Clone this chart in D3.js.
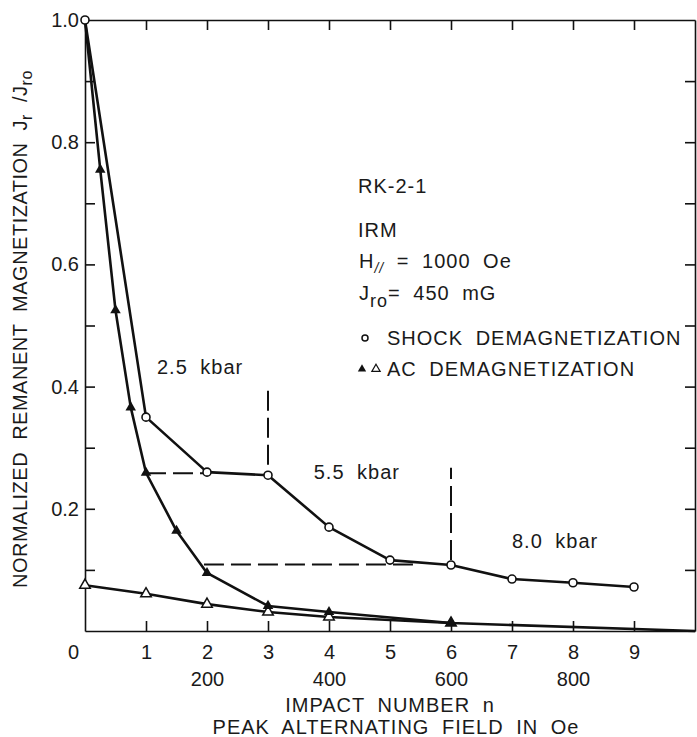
<!DOCTYPE html>
<html>
<head>
<meta charset="utf-8">
<script src="https://cdn.jsdelivr.net/npm/d3@7"></script>
<style>
  body { margin: 0; background: #fff; }
  svg text { font-family: "Liberation Sans", Arial, sans-serif; fill: #1a1a1a; }
</style>
</head>
<body>
<svg class="chart" width="697" height="737"></svg>
<script>
// shock demagnetization, impact number n
const shockN = [0, 1, 2, 3, 4, 5, 6, 7, 8, 9]
const shockJ = [1.0, 0.35, 0.26, 0.255, 0.17, 0.116, 0.108, 0.085, 0.079, 0.072]

// AC demagnetization of the fresh IRM, peak field in Oe
const acField = [0, 25, 50, 75, 100, 150, 200, 300, 400, 600, 1000]
const acJ = [1.0, 0.755, 0.525, 0.366, 0.259, 0.164, 0.095, 0.041, 0.031, 0.013, 0.0]

// AC demagnetization after the shocks (open triangles)
const acShockField = [0, 100, 200, 300, 400, 600]
const acShockJ = [0.075, 0.061, 0.044, 0.031, 0.023, 0.013]

const impactTicks = [0, 1, 2, 3, 4, 5, 6, 7, 8, 9]
const fieldTicks = [200, 400, 600, 800]
const yLabelTicks = [0.2, 0.4, 0.6, 0.8, 1.0]
const yMinorTicks = [0.1, 0.2, 0.3, 0.4, 0.5, 0.6, 0.7, 0.8, 0.9]

// pressure stages: label, n, J (text start / baseline)
const stageLabels = ['2.5 kbar', '5.5 kbar', '8.0 kbar']
const stageN = [1.18, 3.75, 7.0]
const stageJ = [0.421, 0.248, 0.136]

// dashed guides: [n0, J0, n1, J1]
const guides = [
  [3, 0.272, 3, 0.40],
  [6, 0.116, 6, 0.267],
  [1, 0.258, 2, 0.258],
  [1.95, 0.109, 5.4, 0.109]
]

const m = { left: 85, right: 695, top: 20, bottom: 631 }

const svg = d3.select('svg.chart')
const x = d3.scaleLinear().domain([0, 10]).range([m.left, m.right])
const xField = d3.scaleLinear().domain([0, 1000]).range([m.left, m.right])
const y = d3.scaleLinear().domain([0, 1]).range([m.bottom, m.top])

const styleAxis = g => {
  g.select('.domain').attr('stroke', '#111').attr('stroke-width', 1.6)
  g.selectAll('.tick line').attr('stroke', '#111').attr('stroke-width', 1.6)
  g.selectAll('.tick text')
    .attr('font-size', 20)
    .attr('font-family', '"Liberation Sans", Arial, sans-serif')
    .attr('fill', '#1a1a1a')
}

// frame + inward ticks
svg.append('g')
  .attr('transform', `translate(0,${m.bottom})`)
  .call(d3.axisBottom(x).tickValues(impactTicks).tickSizeInner(-10).tickSizeOuter(0).tickPadding(14).tickFormat(d3.format('d')))
  .call(styleAxis)
  .call(g => g.selectAll('.tick').filter(d => d === 0).select('text').attr('x', -12))
  .call(g => g.selectAll('.tick').filter(d => d === 0).select('line').remove())

svg.append('g')
  .attr('transform', `translate(0,${m.bottom + 27})`)
  .call(d3.axisBottom(xField).tickValues(fieldTicks).tickSize(0).tickPadding(14).tickFormat(d3.format('d')))
  .call(styleAxis)
  .call(g => g.select('.domain').remove())

svg.append('g')
  .attr('transform', `translate(0,${m.top})`)
  .call(d3.axisTop(x).tickValues(impactTicks.slice(1)).tickSizeInner(-10).tickSizeOuter(0).tickFormat(''))
  .call(styleAxis)

svg.append('g')
  .attr('transform', `translate(${m.left},0)`)
  .call(d3.axisLeft(y).tickValues(yMinorTicks).tickSizeInner(-10).tickSizeOuter(0).tickPadding(6)
    .tickFormat(d => yLabelTicks.some(v => Math.abs(v - d) < 1e-9) ? d3.format('.1f')(d) : ''))
  .call(styleAxis)

svg.append('g')
  .attr('transform', `translate(${m.left},0)`)
  .call(d3.axisLeft(y).tickValues([1.0]).tickSize(0).tickPadding(6).tickFormat(d3.format('.1f')))
  .call(styleAxis)
  .call(g => g.select('.domain').remove())

svg.append('g')
  .attr('transform', `translate(${m.right},0)`)
  .call(d3.axisRight(y).tickValues(yMinorTicks).tickSizeInner(-10).tickSizeOuter(0).tickFormat(''))
  .call(styleAxis)

// dashed guides
svg.append('g').selectAll('line').data(guides).join('line')
  .attr('x1', d => x(d[0])).attr('y1', d => y(d[1]))
  .attr('x2', d => x(d[2])).attr('y2', d => y(d[3]))
  .attr('stroke', '#111').attr('stroke-width', 2)
  .attr('stroke-dasharray', '20,7')

// curves
const line = d3.line().x(d => d[0]).y(d => d[1])
const shockPts = shockN.map((n, i) => [x(n), y(shockJ[i])])
const acPts = acField.map((f, i) => [xField(f), y(acJ[i])])
const acShockPts = acShockField.map((f, i) => [xField(f), y(acShockJ[i])])

const curves = svg.append('g')
  .attr('fill', 'none').attr('stroke', '#111').attr('stroke-width', 2.6).attr('stroke-linejoin', 'round')
curves.append('path').attr('d', line(acShockPts))
curves.append('path').attr('d', line(acPts))
curves.append('path').attr('d', line(shockPts))

const tri = d3.symbol().type(d3.symbolTriangle).size(48)

svg.append('g').selectAll('path').data(acShockPts).join('path')
  .attr('d', tri).attr('transform', d => `translate(${d[0]},${d[1]})`)
  .attr('fill', '#fff').attr('stroke', '#111').attr('stroke-width', 1.5)

svg.append('g').selectAll('path').data(acPts.slice(1, -1)).join('path')
  .attr('d', tri).attr('transform', d => `translate(${d[0]},${d[1]})`)
  .attr('fill', '#111')

svg.append('g').selectAll('circle').data(shockPts).join('circle')
  .attr('cx', d => d[0]).attr('cy', d => d[1]).attr('r', 4)
  .attr('fill', '#fff').attr('stroke', '#111').attr('stroke-width', 1.6)

// stage labels
svg.append('g').selectAll('text').data(stageLabels).join('text')
  .attr('x', (d, i) => x(stageN[i])).attr('y', (d, i) => y(stageJ[i]))
  .attr('font-size', 20).attr('letter-spacing', 1).attr('word-spacing', 6)
  .text(d => d)

// info block
const info = svg.append('g').attr('font-size', 20).attr('letter-spacing', 1).attr('word-spacing', 6)
info.append('text').attr('x', 358).attr('y', 193).text('RK-2-1')
info.append('text').attr('x', 358).attr('y', 237).text('IRM')
const h = info.append('text').attr('x', 359).attr('y', 268)
h.append('tspan').text('H')
h.append('tspan').attr('dy', 5).attr('font-size', 14).attr('font-style', 'italic').text('//')
h.append('tspan').attr('dy', -5).text(' = 1000  Oe')
const j = info.append('text').attr('x', 359).attr('y', 300)
j.append('tspan').text('J')
j.append('tspan').attr('dy', 7).attr('font-size', 18).text('ro')
j.append('tspan').attr('dy', -7).text('= 450  mG')

info.append('circle').attr('cx', 365).attr('cy', 338).attr('r', 3)
  .attr('fill', '#fff').attr('stroke', '#111').attr('stroke-width', 1.5)
info.append('text').attr('x', 387).attr('y', 345).text('SHOCK DEMAGNETIZATION')

const triSmall = d3.symbol().type(d3.symbolTriangle).size(30)
info.append('path').attr('d', triSmall).attr('transform', 'translate(362,369)').attr('fill', '#111')
info.append('path').attr('d', triSmall).attr('transform', 'translate(376,369)')
  .attr('fill', '#fff').attr('stroke', '#111').attr('stroke-width', 1.2)
info.append('text').attr('x', 387).attr('y', 376).text('AC DEMAGNETIZATION')

// axis titles
svg.append('text').attr('x', 390).attr('y', 712).attr('text-anchor', 'middle')
  .attr('font-size', 20).attr('letter-spacing', 1).attr('word-spacing', 6)
  .text('IMPACT NUMBER n')
svg.append('text').attr('x', 396).attr('y', 734).attr('text-anchor', 'middle')
  .attr('font-size', 20).attr('letter-spacing', 1).attr('word-spacing', 6)
  .text('PEAK ALTERNATING FIELD IN Oe')

const yt = svg.append('text').attr('transform', 'translate(27,588) rotate(-90)')
  .attr('font-size', 20).attr('letter-spacing', 0.5).attr('word-spacing', 6)
yt.append('tspan').text('NORMALIZED REMANENT MAGNETIZATION  J')
yt.append('tspan').attr('dy', 5).attr('font-size', 16).text('r')
yt.append('tspan').attr('dy', -5).text(' /J')
yt.append('tspan').attr('dy', 5).attr('font-size', 16).text('ro')
</script>
</body>
</html>
